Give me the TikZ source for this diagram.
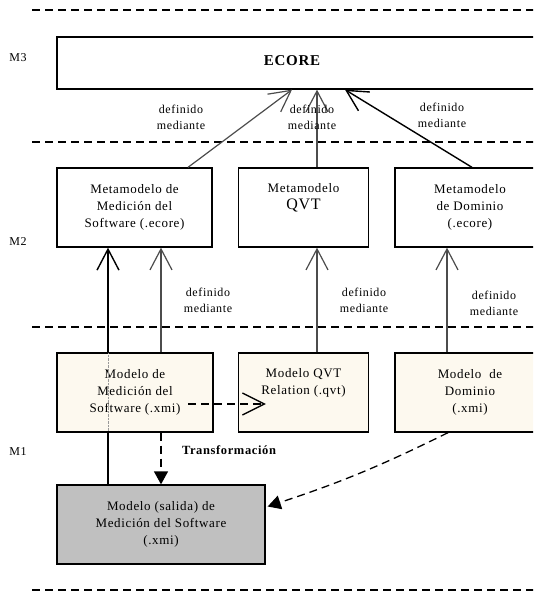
\documentclass[tikz,border=0pt]{standalone}
\usepackage{fontspec}
\setmainfont{Liberation Serif}[LetterSpace=5]
\usetikzlibrary{arrows.meta, positioning}
\definecolor{cream}{HTML}{FDF9EF}
\definecolor{outgray}{HTML}{C0C0C0}

\begin{document}
\begin{tikzpicture}[x=1pt, y=-1pt,
    box/.style={draw, line width=1.3pt, rectangle, minimum height=79pt,
        inner sep=0pt, align=center, font=\fontsize{13}{17.3}\selectfont},
    modelbox/.style={box, fill=cream},
    outbox/.style={box, fill=outgray},
    layer/.style={line width=1.4pt, dash pattern=on 8pt off 5pt},
    defarrow/.style={-{Straight Barb[length=21pt, width=22pt]}, line width=1.2pt, black!70},
    lbl/.style={font=\fontsize{12}{16}\selectfont, align=center},
    ]

\useasboundingbox (0,0) rectangle (533,593);
\clip (0,0) rectangle (533,593);

% layer separators
\draw[layer] (32,10) -- (540,10);
\draw[layer] (32,142) -- (540,142);
\draw[layer] (32,327) -- (540,327);
\draw[layer] (32,590) -- (540,590);

\node[lbl] (m3) at (18,58) {M3};
\node[lbl] (m2) at (18,242) {M2};
\node[lbl] (m1) at (18,452) {M1};

% M3
\node[box, minimum width=490pt, minimum height=52pt] (ecore) at (302,63) {};
\node[font=\bfseries\fontsize{15}{15}\selectfont] (ecoretext) at (292,61) {ECORE};

% M2
\node[box, minimum width=155pt] (mmsoft) at (134.5,207.5)
    {Metamodelo de\\Medición del\\Software (.ecore)};
\node[box, minimum width=130pt] (mmqvt) at (303.5,207.5)
    {Metamodelo\\{\fontsize{16}{17.3}\selectfont QVT}\\\strut};
\node[box, minimum width=150pt] (mmdom) at (470,207.5)
    {Metamodelo\\de Dominio\\(.ecore)};

% M1
\node[modelbox, minimum width=156pt] (msoft) at (135,392.5)
    {Modelo de\\Medición del\\Software (.xmi)};
\node[modelbox, minimum width=130pt] (mqvt) at (303.5,392.5)
    {Modelo QVT\\Relation (.qvt)\\\strut};
\node[modelbox, minimum width=150pt] (mdom) at (470,392.5)
    {Modelo \ de\\Dominio\\(.xmi)};
\node[outbox, minimum width=208pt] (mout) at (161,524.5)
    {Modelo (salida) de\\Medición del Software\\(.xmi)};

% definido mediante
\draw[defarrow] ([shift={(53.5,0)}]mmsoft.north) -- ([shift={(-10,0)}]ecore.south);
\draw[defarrow] ([shift={(13.5,0)}]mmqvt.north) -- ([shift={(15,0)}]ecore.south);
\draw[defarrow, black, line width=1.4pt] ([shift={(2,0)}]mmdom.north) -- ([shift={(43,0)}]ecore.south);

\draw[black, line width=1.4pt] ([shift={(-53,0)}]mout.north) -- ([shift={(-27,0)}]msoft.south);
\draw[black!40, densely dotted] ([shift={(-27,1)}]msoft.north) -- ([shift={(-27,-1)}]msoft.south);
\draw[defarrow, black, line width=1.4pt] ([shift={(-27,0)}]msoft.north) -- ([shift={(-26.5,0)}]mmsoft.south);
\draw[defarrow] ([shift={(26,0)}]msoft.north) -- ([shift={(26.5,0)}]mmsoft.south);
\draw[defarrow] ([shift={(13.5,0)}]mqvt.north) -- ([shift={(13.5,0)}]mmqvt.south);
\draw[defarrow] ([shift={(-23,0)}]mdom.north) -- ([shift={(-23,0)}]mmdom.south);

\node[lbl] (def1) at (181,117) {definido\\mediante};
\node[lbl] (def2) at (312,117) {definido\\mediante};
\node[lbl] (def3) at (442,115) {definido\\mediante};
\node[lbl] (def4) at (208,300) {definido\\mediante};
\node[lbl] (def5) at (364,300) {definido\\mediante};
\node[lbl] (def6) at (494,303) {definido\\mediante};

% transformation
\draw[layer, line width=1.3pt, -{Straight Barb[length=22pt, width=22pt]}]
    ([shift={(53,11.5)}]msoft.center) -- ([shift={(28,11.5)}]mqvt.west);
\draw[layer, line width=1.3pt, -{Triangle[length=13pt, width=14pt]}]
    ([shift={(26,0)}]msoft.south) -- (mout.north);
\draw[layer, line width=1.3pt, -{Triangle[length=13pt, width=14pt]}]
    ([shift={(-22,0)}]mdom.south) to[bend left=4] ([shift={(2,-18)}]mout.east);
\node[font=\bfseries\fontsize{12.5}{14}\selectfont] (trans) at (229,450) {Transformación};

\end{tikzpicture}
\end{document}
